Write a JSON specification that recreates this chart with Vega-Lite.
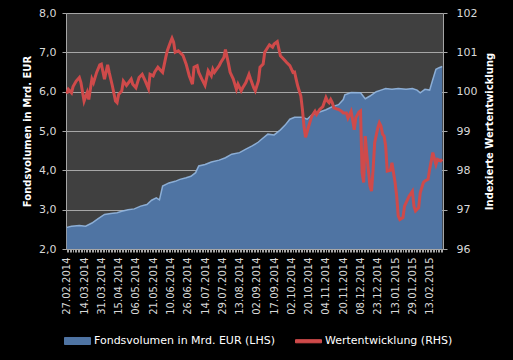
{
  "$schema": "https://vega.github.io/schema/vega-lite/v6.json",
  "width": 377,
  "height": 236,
  "autosize": {"type": "none"},
  "padding": {"left": 66, "top": 13, "right": 70, "bottom": 111},
  "background": "#000000",
  "config": {
    "view": {"fill": "#404040", "stroke": null},
    "font": "DejaVu Sans",
    "axis": {
      "domainColor": "#a6a6a6",
      "tickColor": "#a6a6a6",
      "gridColor": "#a6a6a6",
      "gridOpacity": 1,
      "labelColor": "#d9d9d9",
      "titleColor": "#ffffff",
      "labelFont": "DejaVu Sans",
      "titleFont": "DejaVu Sans",
      "labelFontSize": 11,
      "titleFontSize": 10,
      "titleFontWeight": "bold"
    }
  },
  "datasets": {
    "volumen": [
      {"Handelstag": 0, "Fondsvolumen": 2.55},
      {"Handelstag": 3, "Fondsvolumen": 2.58},
      {"Handelstag": 8, "Fondsvolumen": 2.6},
      {"Handelstag": 12, "Fondsvolumen": 2.58},
      {"Handelstag": 16, "Fondsvolumen": 2.66},
      {"Handelstag": 20, "Fondsvolumen": 2.77},
      {"Handelstag": 24, "Fondsvolumen": 2.88},
      {"Handelstag": 28, "Fondsvolumen": 2.9},
      {"Handelstag": 32, "Fondsvolumen": 2.92},
      {"Handelstag": 35, "Fondsvolumen": 2.96},
      {"Handelstag": 39, "Fondsvolumen": 3.0},
      {"Handelstag": 43, "Fondsvolumen": 3.02},
      {"Handelstag": 47, "Fondsvolumen": 3.09},
      {"Handelstag": 51, "Fondsvolumen": 3.13},
      {"Handelstag": 54, "Fondsvolumen": 3.24},
      {"Handelstag": 57, "Fondsvolumen": 3.3},
      {"Handelstag": 59, "Fondsvolumen": 3.25},
      {"Handelstag": 61, "Fondsvolumen": 3.6},
      {"Handelstag": 65, "Fondsvolumen": 3.68},
      {"Handelstag": 69, "Fondsvolumen": 3.72},
      {"Handelstag": 72, "Fondsvolumen": 3.77},
      {"Handelstag": 76, "Fondsvolumen": 3.81},
      {"Handelstag": 79, "Fondsvolumen": 3.85},
      {"Handelstag": 82, "Fondsvolumen": 3.94},
      {"Handelstag": 84, "Fondsvolumen": 4.11},
      {"Handelstag": 88, "Fondsvolumen": 4.15},
      {"Handelstag": 92, "Fondsvolumen": 4.21},
      {"Handelstag": 97, "Fondsvolumen": 4.26},
      {"Handelstag": 101, "Fondsvolumen": 4.32},
      {"Handelstag": 105, "Fondsvolumen": 4.41},
      {"Handelstag": 110, "Fondsvolumen": 4.45},
      {"Handelstag": 114, "Fondsvolumen": 4.54},
      {"Handelstag": 118, "Fondsvolumen": 4.62},
      {"Handelstag": 122, "Fondsvolumen": 4.72},
      {"Handelstag": 124, "Fondsvolumen": 4.79},
      {"Handelstag": 128, "Fondsvolumen": 4.92},
      {"Handelstag": 132, "Fondsvolumen": 4.9},
      {"Handelstag": 136, "Fondsvolumen": 5.03},
      {"Handelstag": 139, "Fondsvolumen": 5.15},
      {"Handelstag": 142, "Fondsvolumen": 5.3},
      {"Handelstag": 145, "Fondsvolumen": 5.35},
      {"Handelstag": 150, "Fondsvolumen": 5.35},
      {"Handelstag": 153, "Fondsvolumen": 5.3},
      {"Handelstag": 156, "Fondsvolumen": 5.41},
      {"Handelstag": 160, "Fondsvolumen": 5.47},
      {"Handelstag": 165, "Fondsvolumen": 5.54},
      {"Handelstag": 169, "Fondsvolumen": 5.62},
      {"Handelstag": 173, "Fondsvolumen": 5.67},
      {"Handelstag": 176, "Fondsvolumen": 5.8},
      {"Handelstag": 177, "Fondsvolumen": 5.92},
      {"Handelstag": 181, "Fondsvolumen": 5.98},
      {"Handelstag": 187, "Fondsvolumen": 5.97},
      {"Handelstag": 190, "Fondsvolumen": 5.82},
      {"Handelstag": 193, "Fondsvolumen": 5.89},
      {"Handelstag": 197, "Fondsvolumen": 6.0},
      {"Handelstag": 200, "Fondsvolumen": 6.04},
      {"Handelstag": 203, "Fondsvolumen": 6.08},
      {"Handelstag": 207, "Fondsvolumen": 6.06},
      {"Handelstag": 211, "Fondsvolumen": 6.08},
      {"Handelstag": 216, "Fondsvolumen": 6.06},
      {"Handelstag": 220, "Fondsvolumen": 6.08},
      {"Handelstag": 223, "Fondsvolumen": 6.04},
      {"Handelstag": 225, "Fondsvolumen": 5.97},
      {"Handelstag": 228, "Fondsvolumen": 6.06},
      {"Handelstag": 231, "Fondsvolumen": 6.04},
      {"Handelstag": 233, "Fondsvolumen": 6.31},
      {"Handelstag": 235, "Fondsvolumen": 6.57},
      {"Handelstag": 237, "Fondsvolumen": 6.61},
      {"Handelstag": 239, "Fondsvolumen": 6.64}
    ],
    "wert": [
      {"Handelstag": 0, "Wertentwicklung": 99.95},
      {"Handelstag": 1, "Wertentwicklung": 100.06},
      {"Handelstag": 3, "Wertentwicklung": 99.97},
      {"Handelstag": 4, "Wertentwicklung": 100.13},
      {"Handelstag": 6, "Wertentwicklung": 100.27},
      {"Handelstag": 8, "Wertentwicklung": 100.36},
      {"Handelstag": 9, "Wertentwicklung": 100.23},
      {"Handelstag": 11, "Wertentwicklung": 99.76},
      {"Handelstag": 13, "Wertentwicklung": 99.98},
      {"Handelstag": 14, "Wertentwicklung": 99.8},
      {"Handelstag": 16, "Wertentwicklung": 100.32},
      {"Handelstag": 17, "Wertentwicklung": 100.23},
      {"Handelstag": 19, "Wertentwicklung": 100.49},
      {"Handelstag": 21, "Wertentwicklung": 100.68},
      {"Handelstag": 22, "Wertentwicklung": 100.7},
      {"Handelstag": 24, "Wertentwicklung": 100.32},
      {"Handelstag": 26, "Wertentwicklung": 100.68},
      {"Handelstag": 27, "Wertentwicklung": 100.49},
      {"Handelstag": 29, "Wertentwicklung": 100.15},
      {"Handelstag": 31, "Wertentwicklung": 99.76},
      {"Handelstag": 32, "Wertentwicklung": 99.72},
      {"Handelstag": 33, "Wertentwicklung": 99.93},
      {"Handelstag": 35, "Wertentwicklung": 100.02},
      {"Handelstag": 36, "Wertentwicklung": 100.27},
      {"Handelstag": 38, "Wertentwicklung": 100.16},
      {"Handelstag": 41, "Wertentwicklung": 100.32},
      {"Handelstag": 42, "Wertentwicklung": 100.19},
      {"Handelstag": 44, "Wertentwicklung": 100.1},
      {"Handelstag": 46, "Wertentwicklung": 100.36},
      {"Handelstag": 48, "Wertentwicklung": 100.44},
      {"Handelstag": 50, "Wertentwicklung": 100.27},
      {"Handelstag": 52, "Wertentwicklung": 100.08},
      {"Handelstag": 53, "Wertentwicklung": 100.44},
      {"Handelstag": 55, "Wertentwicklung": 100.4},
      {"Handelstag": 56, "Wertentwicklung": 100.5},
      {"Handelstag": 58, "Wertentwicklung": 100.62},
      {"Handelstag": 60, "Wertentwicklung": 100.53},
      {"Handelstag": 61, "Wertentwicklung": 100.49},
      {"Handelstag": 63, "Wertentwicklung": 100.87},
      {"Handelstag": 64, "Wertentwicklung": 101.04},
      {"Handelstag": 66, "Wertentwicklung": 101.26},
      {"Handelstag": 67, "Wertentwicklung": 101.36},
      {"Handelstag": 68, "Wertentwicklung": 101.26},
      {"Handelstag": 69, "Wertentwicklung": 101.0},
      {"Handelstag": 71, "Wertentwicklung": 101.04},
      {"Handelstag": 73, "Wertentwicklung": 100.96},
      {"Handelstag": 74, "Wertentwicklung": 100.92},
      {"Handelstag": 76, "Wertentwicklung": 100.7},
      {"Handelstag": 78, "Wertentwicklung": 100.4},
      {"Handelstag": 80, "Wertentwicklung": 100.19},
      {"Handelstag": 81, "Wertentwicklung": 100.62},
      {"Handelstag": 83, "Wertentwicklung": 100.66},
      {"Handelstag": 84, "Wertentwicklung": 100.49},
      {"Handelstag": 86, "Wertentwicklung": 100.32},
      {"Handelstag": 88, "Wertentwicklung": 100.16},
      {"Handelstag": 90, "Wertentwicklung": 100.53},
      {"Handelstag": 92, "Wertentwicklung": 100.4},
      {"Handelstag": 93, "Wertentwicklung": 100.57},
      {"Handelstag": 94, "Wertentwicklung": 100.49},
      {"Handelstag": 97, "Wertentwicklung": 100.66},
      {"Handelstag": 98, "Wertentwicklung": 100.74},
      {"Handelstag": 100, "Wertentwicklung": 100.87},
      {"Handelstag": 101, "Wertentwicklung": 101.07},
      {"Handelstag": 103, "Wertentwicklung": 100.7},
      {"Handelstag": 104, "Wertentwicklung": 100.49},
      {"Handelstag": 106, "Wertentwicklung": 100.32},
      {"Handelstag": 108, "Wertentwicklung": 100.06},
      {"Handelstag": 109, "Wertentwicklung": 100.19},
      {"Handelstag": 111, "Wertentwicklung": 100.02},
      {"Handelstag": 112, "Wertentwicklung": 100.1},
      {"Handelstag": 114, "Wertentwicklung": 100.23},
      {"Handelstag": 116, "Wertentwicklung": 100.44},
      {"Handelstag": 117, "Wertentwicklung": 100.32},
      {"Handelstag": 119, "Wertentwicklung": 100.1},
      {"Handelstag": 120, "Wertentwicklung": 100.02},
      {"Handelstag": 122, "Wertentwicklung": 100.27},
      {"Handelstag": 123, "Wertentwicklung": 100.62},
      {"Handelstag": 125, "Wertentwicklung": 100.7},
      {"Handelstag": 126, "Wertentwicklung": 101.0},
      {"Handelstag": 128, "Wertentwicklung": 101.13},
      {"Handelstag": 129, "Wertentwicklung": 101.19},
      {"Handelstag": 131, "Wertentwicklung": 101.13},
      {"Handelstag": 132, "Wertentwicklung": 101.21},
      {"Handelstag": 134, "Wertentwicklung": 101.27},
      {"Handelstag": 135, "Wertentwicklung": 101.09},
      {"Handelstag": 136, "Wertentwicklung": 100.91},
      {"Handelstag": 138, "Wertentwicklung": 100.83},
      {"Handelstag": 140, "Wertentwicklung": 100.74},
      {"Handelstag": 142, "Wertentwicklung": 100.66},
      {"Handelstag": 144, "Wertentwicklung": 100.49},
      {"Handelstag": 145, "Wertentwicklung": 100.5},
      {"Handelstag": 146, "Wertentwicklung": 100.32},
      {"Handelstag": 147, "Wertentwicklung": 100.15},
      {"Handelstag": 149, "Wertentwicklung": 99.89},
      {"Handelstag": 150, "Wertentwicklung": 99.55},
      {"Handelstag": 151, "Wertentwicklung": 99.12},
      {"Handelstag": 152, "Wertentwicklung": 98.84},
      {"Handelstag": 154, "Wertentwicklung": 99.12},
      {"Handelstag": 155, "Wertentwicklung": 99.25},
      {"Handelstag": 156, "Wertentwicklung": 99.38},
      {"Handelstag": 158, "Wertentwicklung": 99.5},
      {"Handelstag": 159, "Wertentwicklung": 99.42},
      {"Handelstag": 161, "Wertentwicklung": 99.55},
      {"Handelstag": 163, "Wertentwicklung": 99.62},
      {"Handelstag": 165, "Wertentwicklung": 99.85},
      {"Handelstag": 166, "Wertentwicklung": 99.76},
      {"Handelstag": 167, "Wertentwicklung": 99.72},
      {"Handelstag": 168, "Wertentwicklung": 99.8},
      {"Handelstag": 169, "Wertentwicklung": 99.72},
      {"Handelstag": 170, "Wertentwicklung": 99.59},
      {"Handelstag": 172, "Wertentwicklung": 99.56},
      {"Handelstag": 173, "Wertentwicklung": 99.55},
      {"Handelstag": 175, "Wertentwicklung": 99.5},
      {"Handelstag": 176, "Wertentwicklung": 99.46},
      {"Handelstag": 178, "Wertentwicklung": 99.46},
      {"Handelstag": 179, "Wertentwicklung": 99.33},
      {"Handelstag": 181, "Wertentwicklung": 99.5},
      {"Handelstag": 182, "Wertentwicklung": 99.28},
      {"Handelstag": 183, "Wertentwicklung": 99.03},
      {"Handelstag": 184, "Wertentwicklung": 99.34},
      {"Handelstag": 186, "Wertentwicklung": 99.48},
      {"Handelstag": 187, "Wertentwicklung": 99.51},
      {"Handelstag": 188, "Wertentwicklung": 97.94},
      {"Handelstag": 189, "Wertentwicklung": 97.69},
      {"Handelstag": 190, "Wertentwicklung": 98.87},
      {"Handelstag": 191, "Wertentwicklung": 98.4},
      {"Handelstag": 193, "Wertentwicklung": 97.6},
      {"Handelstag": 194, "Wertentwicklung": 97.47},
      {"Handelstag": 195, "Wertentwicklung": 98.03},
      {"Handelstag": 196, "Wertentwicklung": 98.7},
      {"Handelstag": 198, "Wertentwicklung": 99.08},
      {"Handelstag": 199, "Wertentwicklung": 99.21},
      {"Handelstag": 200, "Wertentwicklung": 99.13},
      {"Handelstag": 201, "Wertentwicklung": 98.92},
      {"Handelstag": 202, "Wertentwicklung": 98.87},
      {"Handelstag": 203, "Wertentwicklung": 98.62},
      {"Handelstag": 204, "Wertentwicklung": 97.98},
      {"Handelstag": 206, "Wertentwicklung": 98.0},
      {"Handelstag": 207, "Wertentwicklung": 98.19},
      {"Handelstag": 208, "Wertentwicklung": 97.94},
      {"Handelstag": 209, "Wertentwicklung": 97.69},
      {"Handelstag": 210, "Wertentwicklung": 97.35},
      {"Handelstag": 211, "Wertentwicklung": 96.84},
      {"Handelstag": 212, "Wertentwicklung": 96.75},
      {"Handelstag": 214, "Wertentwicklung": 96.8},
      {"Handelstag": 215, "Wertentwicklung": 97.09},
      {"Handelstag": 217, "Wertentwicklung": 97.26},
      {"Handelstag": 218, "Wertentwicklung": 97.35},
      {"Handelstag": 220, "Wertentwicklung": 97.47},
      {"Handelstag": 221, "Wertentwicklung": 97.09},
      {"Handelstag": 222, "Wertentwicklung": 96.97},
      {"Handelstag": 224, "Wertentwicklung": 97.05},
      {"Handelstag": 225, "Wertentwicklung": 97.43},
      {"Handelstag": 227, "Wertentwicklung": 97.69},
      {"Handelstag": 228, "Wertentwicklung": 97.73},
      {"Handelstag": 230, "Wertentwicklung": 97.77},
      {"Handelstag": 231, "Wertentwicklung": 98.03},
      {"Handelstag": 233, "Wertentwicklung": 98.45},
      {"Handelstag": 235, "Wertentwicklung": 98.15},
      {"Handelstag": 236, "Wertentwicklung": 98.28},
      {"Handelstag": 238, "Wertentwicklung": 98.24},
      {"Handelstag": 239, "Wertentwicklung": 98.28}
    ]
  },
  "layer": [
    {
      "data": {"name": "volumen"},
      "layer": [
        {
          "mark": {"type": "area", "opacity": 1},
          "encoding": {
            "x": {
              "field": "Handelstag",
              "type": "quantitative",
              "scale": {"domain": [-0.5, 239.5], "nice": false, "zero": false},
              "axis": {
                "title": null,
                "tickCount": 240,
                "grid": false,
                "tickSize": 3,
                "labelAngle": -90,
                "labelFontSize": 10,
                "labelPadding": 5,
                "labelOverlap": false,
                "labelFlush": false,
                "labelExpr": "datum.value % 11 == 0 ? ['27.02.2014','14.03.2014','31.03.2014','15.04.2014','06.05.2014','21.05.2014','10.06.2014','26.06.2014','14.07.2014','29.07.2014','13.08.2014','02.09.2014','17.09.2014','02.10.2014','20.10.2014','04.11.2014','20.11.2014','08.12.2014','23.12.2014','13.01.2015','29.01.2015','13.02.2015'][datum.value / 11] : ''"
              }
            },
            "y": {
              "field": "Fondsvolumen",
              "type": "quantitative",
              "scale": {"domain": [2, 8], "nice": false, "zero": false},
              "axis": {
                "orient": "left",
                "title": "Fondsvolumen in Mrd. EUR",
                "values": [2, 3, 4, 5, 6, 7, 8],
                "labelExpr": "replace(format(datum.value, '.1f'), '.', ',')",
                "labelOverlap": false,
                "tickSize": 4,
                "labelPadding": 6,
                "titlePadding": 6,
                "grid": true
              }
            },
            "y2": {"datum": 2},
            "color": {
              "datum": "Fondsvolumen in Mrd. EUR (LHS)",
              "scale": {
                "domain": ["Fondsvolumen in Mrd. EUR (LHS)", "Wertentwicklung (RHS)"],
                "range": ["#4f74a3", "#cf4a4a"]
              },
              "legend": {
                "title": null,
                "orient": "none",
                "legendX": -2,
                "legendY": 314,
                "direction": "horizontal",
                "columnPadding": 18,
                "labelFontSize": 11,
                "labelLimit": 400,
                "labelColor": "#ffffff",
                "labelFont": "DejaVu Sans",
                "labelOffset": 3,
                "symbolSize": 676,
                "symbolOpacity": 1,
                "padding": 0,
                "encode": {
                  "symbols": {
                    "update": {
                      "shape": {"signal": "datum.value === 'Wertentwicklung (RHS)' ? 'M-1,-0.12H1V0.12H-1Z' : 'M-1,-0.27H1V0.27H-1Z'"},
                      "fill": {"scale": "color", "field": "value"},
                      "stroke": {"signal": "datum.value === 'Wertentwicklung (RHS)' ? 'transparent' : '#8fb0da'"},
                      "strokeWidth": {"value": 1},
                      "opacity": {"value": 1}
                    }
                  }
                }
              }
            }
          }
        },
        {
          "mark": {"type": "line", "color": "#94b7e0", "strokeWidth": 1.5, "opacity": 0.9},
          "encoding": {
            "x": {"field": "Handelstag", "type": "quantitative"},
            "y": {
              "field": "Fondsvolumen",
              "type": "quantitative",
              "axis": {
                "orient": "left",
                "title": "Fondsvolumen in Mrd. EUR",
                "values": [2, 3, 4, 5, 6, 7, 8],
                "labelExpr": "replace(format(datum.value, '.1f'), '.', ',')",
                "labelOverlap": false,
                "tickSize": 4,
                "labelPadding": 6,
                "titlePadding": 6,
                "grid": true
              }
            }
          }
        }
      ]
    },
    {
      "data": {"name": "wert"},
      "mark": {"type": "line", "strokeWidth": 3},
      "encoding": {
        "x": {"field": "Handelstag", "type": "quantitative"},
        "y": {
          "field": "Wertentwicklung",
          "type": "quantitative",
          "scale": {"domain": [96, 102], "nice": false, "zero": false},
          "axis": {
            "orient": "right",
            "title": "Indexierte Wertentwicklung",
            "titleAngle": 270,
            "values": [96, 97, 98, 99, 100, 101, 102],
            "grid": false,
            "tickSize": 4,
            "labelPadding": 9,
            "titlePadding": 18
          }
        },
        "color": {"datum": "Wertentwicklung (RHS)"}
      }
    }
  ],
  "resolve": {"scale": {"y": "independent"}}
}
